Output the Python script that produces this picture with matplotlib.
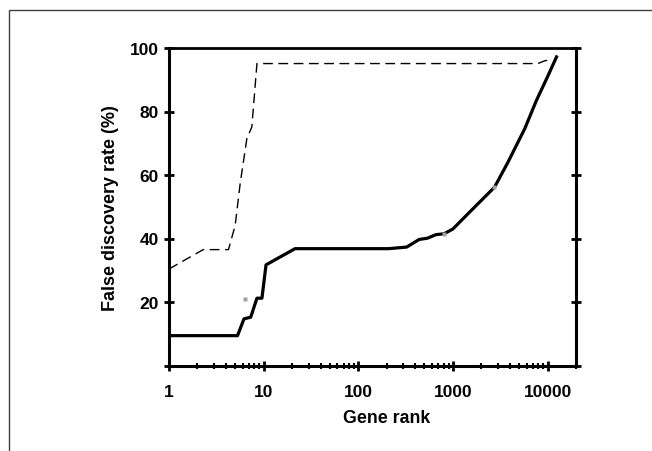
import numpy as np
import matplotlib
matplotlib.use("Agg")
import matplotlib.pyplot as plt
import matplotlib.patches as mpatches
from matplotlib.ticker import LogLocator, FixedLocator, NullFormatter, FixedFormatter

plt.rcParams["font.family"] = ["Liberation Sans", "DejaVu Sans"]
plt.rcParams["font.weight"] = "bold"

# ── Data ────────────────────────────────────────────────────────────────────
solid_rank = [1, 5.3, 6.2, 7.3, 8.5, 9.6, 10.6, 21.5, 210, 325, 440, 540,
              660, 810, 1000, 1560, 2160, 2760, 3830, 5750, 7640, 10170, 12450]
solid_fdr = [9.4, 9.4, 14.7, 15.2, 21.2, 21.2, 31.7, 36.8, 36.8, 37.3, 39.7, 40.1,
             41.2, 41.5, 43.0, 48.8, 53.0, 56.2, 64.1, 74.6, 83.5, 91.4, 97.2]

dash_rank = [1, 2.3, 4.25, 5.0, 5.65, 6.65, 7.5, 8.5, 7900, 9400, 10500]
dash_fdr = [30.4, 36.5, 36.5, 44.1, 57.3, 71.5, 75.1, 95.1, 95.1, 96.0, 96.2]

gray_rank = [6.3, 800, 2700]
gray_fdr = [20.8, 41.5, 56.3]

x_ticks = [1, 10, 100, 1000, 10000]
x_labels = ["1", "10", "100", "1000", "10000"]
y_ticks = [0, 20, 40, 60, 80, 100]
y_labels = ["", "20", "40", "60", "80", "100"]

# ── Figure ──────────────────────────────────────────────────────────────────
fig = plt.figure(figsize=(6.52, 4.52), dpi=100)
fig.patch.set_facecolor("white")

# outer frame (left and top visible, rest runs off the image)
frame = mpatches.Rectangle((9 / 652, -0.2), 1.2, 1 - 11 / 452 + 0.2,
                           transform=fig.transFigure, fill=False,
                           edgecolor="#404040", linewidth=1.0, clip_on=False)
fig.patches.append(frame)

ax = fig.add_axes([169 / 652, 1 - 366.5 / 452, (576 - 169) / 652, (366.5 - 49) / 452])

ax.plot(dash_rank, dash_fdr, color="black", lw=1.0, dashes=(7, 4))
ax.plot(solid_rank, solid_fdr, color="black", lw=2.3, solid_joinstyle="round")
ax.plot(gray_rank, gray_fdr, linestyle="none", marker="s", ms=2.5,
        color="#a0a0a0", mec="none")

ax.set_xscale("log")
ax.set_xlim(1, 20000)
ax.set_ylim(0, 100)

ax.xaxis.set_major_locator(FixedLocator(x_ticks))
ax.xaxis.set_major_formatter(FixedFormatter(x_labels))
ax.xaxis.set_minor_locator(LogLocator(base=10, subs=np.arange(2, 10), numticks=20))
ax.xaxis.set_minor_formatter(NullFormatter())
ax.yaxis.set_major_locator(FixedLocator(y_ticks))
ax.yaxis.set_major_formatter(FixedFormatter(y_labels))

for s in ax.spines.values():
    s.set_linewidth(2.2)
ax.spines["top"].set_linewidth(2.0)

ax.tick_params(axis="both", which="major", direction="inout", length=7, width=2,
               labelsize=12.5)
ax.tick_params(axis="x", which="minor", direction="inout", length=5, width=1.5)
ax.tick_params(axis="y", right=True, labelright=False, pad=4)
ax.tick_params(axis="x", which="major", pad=10)

for lbl in ax.get_xticklabels() + ax.get_yticklabels():
    lbl.set_fontweight("bold")

ax.set_xlabel("Gene rank", fontsize=12.8, fontweight="bold")
ax.set_ylabel("False discovery rate (%)", fontsize=13, fontweight="bold")
ax.xaxis.set_label_coords((387 - 169) / (576 - 169), -(410 - 366.5) / (366.5 - 49))
ax.yaxis.set_label_coords(-(169 - 119) / (576 - 169), 0.5)

fig.savefig("out.png", dpi=100, facecolor="white")
